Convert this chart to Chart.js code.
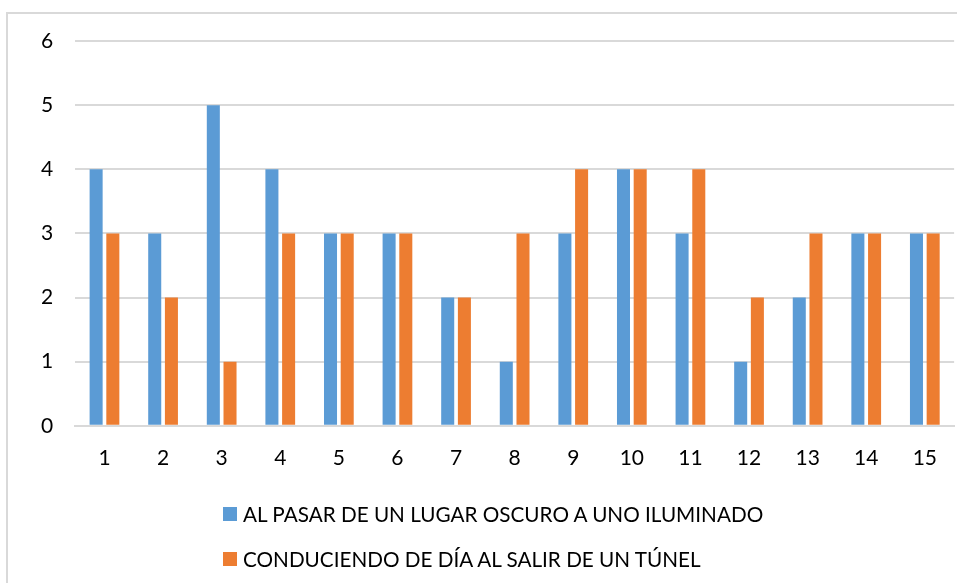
<!DOCTYPE html>
<html>
<head>
<meta charset="utf-8">
<script src="https://cdn.jsdelivr.net/npm/chart.js@4"></script>
<style>
  html, body { margin: 0; padding: 0; background: #fff; }
  #wrap { position: relative; width: 957px; height: 583px; overflow: hidden; }
  #frame { position: absolute; left: 6px; top: 12px; width: 1000px; height: 1000px;
           border: 2px solid #D9D9D9; box-sizing: border-box; }
  #chartBox { position: absolute; left: 0; top: 0; width: 957px; height: 583px; }
  #legend { position: absolute; left: 223px; top: 0; font-family: Lato, sans-serif;
            font-size: 20.7px; color: #000; }
  .item { position: absolute; left: 0; white-space: nowrap; display: flex; align-items: center; }
  .sw { width: 14px; height: 14px; margin-right: 6px; }
</style>
</head>
<body>
<div id="wrap">
  <div id="frame"></div>
  <div id="chartBox"><canvas id="myChart"></canvas></div>
  <div id="legend"></div>
</div>
<script>
var labels = ['1', '2', '3', '4', '5', '6', '7', '8', '9', '10', '11', '12', '13', '14', '15'];
var oscuro = [4, 3, 5, 4, 3, 3, 2, 1, 3, 4, 3, 1, 2, 3, 3];
var tunel = [3, 2, 1, 3, 3, 3, 2, 3, 4, 4, 4, 2, 3, 3, 3];
var seriesNames = ['AL PASAR DE UN LUGAR OSCURO A UNO ILUMINADO',
                   'CONDUCIENDO DE DÍA AL SALIR DE UN TÚNEL'];
var seriesColors = ['#5B9BD5', '#ED7D31'];

var ctx = document.getElementById('myChart').getContext('2d');

var chart = new Chart(ctx, {
    type: 'bar',
    data: {
        labels: labels,
        datasets: [{
            label: seriesNames[0],
            backgroundColor: seriesColors[0],
            data: oscuro
        }, {
            label: seriesNames[1],
            backgroundColor: seriesColors[1],
            data: tunel
        }]
    },
    options: {
        responsive: true,
        maintainAspectRatio: false,
        animation: false,
        categoryPercentage: 0.57,
        barPercentage: 0.78,
        layout: { padding: { top: 41, left: 19, right: 0, bottom: 92 } },
        plugins: {
            legend: { display: false },
            tooltip: { enabled: false }
        },
        scales: {
            x: {
                grid: { display: false, drawTicks: false },
                border: { display: true, color: '#D9D9D9', width: 2 },
                ticks: { color: '#000', padding: 20, font: { family: 'Lato', size: 21 } }
            },
            y: {
                min: 0,
                max: 6,
                ticks: { stepSize: 1, color: '#000', padding: 22, font: { family: 'Lato', size: 21 } },
                grid: { color: '#D9D9D9', lineWidth: 2, drawTicks: false },
                border: { display: false }
            }
        }
    }
});

// legend stacked on two rows, left aligned as in the original
var legend = document.getElementById('legend');
var rowsY = [514, 559];
chart.data.datasets.forEach(function (ds, i) {
    var item = document.createElement('div');
    item.className = 'item';
    item.style.top = (rowsY[i] - 12) + 'px';
    item.style.height = '24px';
    item.innerHTML = '<span class="sw" style="background:' + ds.backgroundColor + '"></span>' + ds.label;
    legend.appendChild(item);
});
</script>
</body>
</html>
